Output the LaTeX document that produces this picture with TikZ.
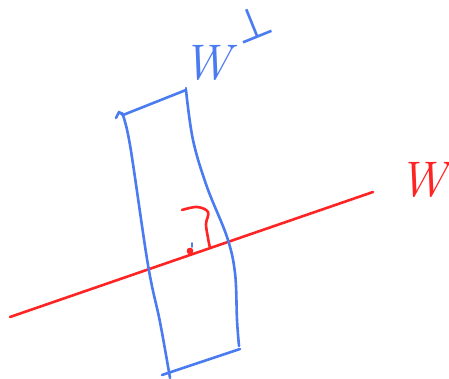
\documentclass[tikz,border=0pt]{standalone}
\usepackage{fontspec}
\newfontfamily\symfont{DejaVu Sans}
\definecolor{penblue}{HTML}{4A7BF0}
\definecolor{penred}{HTML}{FF2424}
\tikzset{
  bluestroke/.style={draw=penblue,line width=2.6pt,line cap=round,line join=round},
  redstroke/.style={draw=penred,line width=2.6pt,line cap=round,line join=round},
  bluelabel/.style={text=penblue,inner sep=0pt,font=\fontsize{50}{50}\selectfont\itshape},
  redlabel/.style={text=penred,inner sep=0pt,font=\fontsize{50}{50}\selectfont\itshape}
}
\begin{document}
\begin{tikzpicture}[x=1pt,y=-1pt]
\useasboundingbox (0,0) rectangle (449,379);
% red line W
\draw[redstroke] (10,317) -- (373,192);
% blue strip
\draw[bluestroke] (116,118) -- (119,112) -- (123,115) -- (186,90);
\draw[bluestroke] (186,88) -- (186,92);
\draw[bluestroke] plot[smooth,tension=0.6] coordinates {(122,113) (130,145) (148,265) (160,322) (170,378)};
\draw[bluestroke] plot[smooth,tension=0.6] coordinates {(186,90) (193,140) (207,187) (227,237) (235,273) (237,320) (239,346)};
\draw[bluestroke] (162,375) -- (240,349);
% red mark
\draw[redstroke] plot[smooth,tension=0.6] coordinates {(182,210) (197,207) (208,212) (206,224) (208,238) (210,248)};
\draw[redstroke,fill=penred] (190,251) circle (2pt);
\draw[bluestroke,line width=1.6pt] (192,243) -- (192,247);
% labels
\node[bluelabel] (wperp) at (207,63) {W};
\node[bluelabel,font=\fontsize{44}{44}\selectfont\symfont,anchor=base,rotate=22] (perp) at (258,38) {⊥};
\node[redlabel] (w) at (423,180) {W};
\end{tikzpicture}
\end{document}
